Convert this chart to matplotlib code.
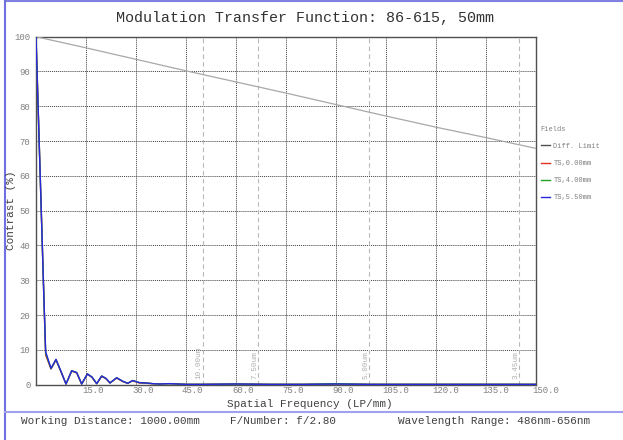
import numpy as np
import matplotlib
matplotlib.use("Agg")
import matplotlib.pyplot as plt
from matplotlib.lines import Line2D
import matplotlib.transforms as mtransforms

plt.rcParams['font.family'] = ['Liberation Mono', 'DejaVu Sans Mono']

# diffraction limit
diff_freq = [0, 15, 30, 45, 60, 75, 90, 105, 120, 135, 150]
diff_mtf = [100, 96.8, 93.5, 90.2, 87.0, 83.8, 80.5, 77.2, 74.0, 71.0, 67.9]

# field MTF curves
freq = [0, 1.2, 2.4, 2.9, 4.5, 6.0, 7.5, 9.0, 10.7, 12.2, 13.7, 15.4, 16.8, 18.2,
        19.7, 21.0, 22.2, 24.2, 26.0, 27.5, 29.0, 31.0, 33.0, 35.0, 37.0, 40.0,
        45.0, 50.0, 60.0, 70.0, 80.0, 90.0, 100.0, 110.0, 120.0, 130.0, 140.0, 150.0]
ts_0 = [100, 62, 24, 8.5, 4.5, 7.1, 3.7, 0.2, 3.9, 3.4, 0.2, 3.0, 2.1, 0.3,
        2.4, 1.7, 0.5, 1.9, 0.9, 0.4, 1.1, 0.5, 0.4, 0.3, 0.2, 0.3,
        0.1, 0.1, 0.2, 0.1, 0.1, 0.2, 0.1, 0.1, 0.1, 0.1, 0.1, 0.1]
ts_4 = [100, 62, 24, 9.0, 4.6, 7.2, 3.8, 0.2, 4.0, 3.5, 0.2, 3.1, 2.2, 0.3,
        2.5, 1.8, 0.5, 2.0, 1.0, 0.4, 1.2, 0.6, 0.5, 0.3, 0.2, 0.3,
        0.1, 0.1, 0.2, 0.1, 0.1, 0.3, 0.1, 0.1, 0.1, 0.1, 0.1, 0.1]
ts_55 = [100, 62, 24, 9.5, 4.7, 7.3, 3.8, 0.2, 4.0, 3.5, 0.2, 3.1, 2.2, 0.3,
         2.5, 1.8, 0.5, 2.0, 1.0, 0.4, 1.2, 0.6, 0.5, 0.3, 0.2, 0.3,
         0.1, 0.1, 0.2, 0.1, 0.1, 0.2, 0.1, 0.1, 0.1, 0.1, 0.1, 0.1]

# pixel pitch markers
pitch_labels = ['10.00um', '7.50um', '5.00um', '3.45um']
pitch_freq = [50.0, 66.7, 100.0, 144.9]

W, H = 623, 440
fig = plt.figure(figsize=(W / 100, H / 100), dpi=100)
ax = fig.add_axes([36 / W, 1 - 384.7 / H, 500 / W, 348 / H])

ax.plot(diff_freq, diff_mtf, color='#a8a8a8', lw=0.9, zorder=3)
ax.plot(freq, ts_0, color='#e03020', lw=1.0, zorder=4)
ax.plot(freq, ts_4, color='#20a020', lw=1.0, zorder=5)
ax.plot(freq, ts_55, color='#2828e0', lw=1.0, zorder=6)

for f, lab in zip(pitch_freq, pitch_labels):
    ax.axvline(f, color='#b8b8b8', lw=0.8, ls=(0, (4, 3)), zorder=2)
    ax.text(f - 1.0, 1.5, lab, rotation=90, ha='center', va='bottom',
            fontsize=5.5, color='#b0b0b0', zorder=2)

ax.set_xlim(0, 150)
ax.set_ylim(0, 100)
ax.set_xticks(np.arange(15, 151, 15))
ax.set_xticklabels(['%.1f' % v for v in np.arange(15, 151, 15)])
ax.set_yticks(np.arange(0, 101, 10))
ax.set_yticklabels([str(v) for v in range(0, 101, 10)])
ax.tick_params(axis='both', length=0, labelsize=6.5, colors='#808080')
ax.tick_params(axis='x', pad=1)
ax.tick_params(axis='y', pad=4)
offset = mtransforms.ScaledTranslation(-4 / 100, 0, fig.dpi_scale_trans)
for lbl in ax.get_xticklabels():
    lbl.set_horizontalalignment('left')
    lbl.set_transform(lbl.get_transform() + offset)

ax.grid(True, color='#404040', ls=(0, (1, 1)), lw=0.7)
for s in ax.spines.values():
    s.set_color('#505050')
    s.set_linewidth(1.0)

xl = ax.set_xlabel('Spatial Frequency (LP/mm)', fontsize=7.9, color='#404040')
ax.xaxis.set_label_coords((310 - 36) / 500, -(404 - 384.7) / 348)
xl.set_verticalalignment('center')
fig.text(11 / W, 1 - 210 / H, 'Contrast (%)', rotation=90, ha='center', va='center',
         fontsize=7.9, color='#404040')

fig.text(305 / W, 1 - 18 / H, 'Modulation Transfer Function: 86-615, 50mm',
         ha='center', va='center', fontsize=10.8, color='#333333')

# legend
handles = [Line2D([], [], color='#505050', lw=1.0),
           Line2D([], [], color='#e03020', lw=1.0),
           Line2D([], [], color='#20a020', lw=1.0),
           Line2D([], [], color='#2828e0', lw=1.0)]
leg = fig.legend(handles, ['Diff. Limit', 'TS,0.00mm', 'TS,4.00mm', 'TS,5.50mm'],
                 title='Fields', loc='upper left', bbox_to_anchor=(536 / W, 1 - 121 / H),
                 frameon=False, fontsize=5.0, title_fontsize=5.0, handlelength=1.3,
                 handletextpad=0.5, labelspacing=1.45, alignment='left',
                 borderaxespad=0.3)
leg._legend_handle_box.sep = 4
for t in leg.get_texts():
    t.set_color('#808080')
leg.get_title().set_color('#808080')

# frame / footer lines
fig.add_artist(Line2D([5 / W, 1], [1 - 1 / H, 1 - 1 / H], color='#8080e0', lw=1.5))
fig.add_artist(Line2D([5 / W, 5 / W], [0, 1], color='#7070e0', lw=1.5))
fig.add_artist(Line2D([5 / W, 1], [1 - 412 / H, 1 - 412 / H], color='#a0a0ee', lw=1.5))

footer_y = 1 - 421 / H
fig.text(21 / W, footer_y, 'Working Distance: 1000.00mm', ha='left', va='center',
         fontsize=7.9, color='#404040')
fig.text(230 / W, footer_y, 'F/Number: f/2.80', ha='left', va='center',
         fontsize=7.9, color='#404040')
fig.text(398 / W, footer_y, 'Wavelength Range: 486nm-656nm', ha='left', va='center',
         fontsize=7.9, color='#404040')

fig.savefig('out.png', dpi=100)
